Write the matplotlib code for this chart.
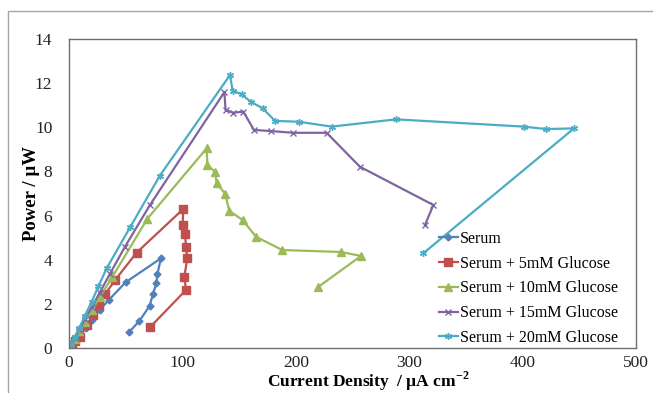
import matplotlib.pyplot as plt
from matplotlib.patches import Rectangle

plt.rcParams['font.family'] = ['Liberation Serif', 'DejaVu Serif']
plt.rcParams['mathtext.fontset'] = 'custom'
plt.rcParams['mathtext.rm'] = 'Liberation Serif'
plt.rcParams['mathtext.bf'] = 'Liberation Serif:bold'

# data (current density, power)
serum_x = [0, 3, 6, 10, 15, 20, 27, 35, 50, 81, 78, 77, 74, 71, 62, 53]
serum_y = [0, 0.15, 0.35, 0.6, 0.9, 1.25, 1.72, 2.17, 2.98, 4.06, 3.35, 2.93, 2.43, 1.9, 1.22, 0.72]

g5_x = [0, 2.4, 5, 9.7, 15.6, 21.5, 26.7, 31.7, 41, 59.6, 100.8, 100.2, 102.3, 103.2, 104.3, 101.7, 103.2, 71.4]
g5_y = [0, 0.14, 0.3, 0.51, 1.04, 1.5, 1.95, 2.43, 3.1, 4.32, 6.3, 5.57, 5.15, 4.59, 4.06, 3.23, 2.63, 0.94]

g10_x = [0, 2, 5, 9, 14, 20, 27, 38, 69, 121.4, 122, 128.7, 130.2, 137.6, 141.4, 153.1, 164.9, 188, 240, 257.5, 219.6]
g10_y = [0, 0.15, 0.4, 0.75, 1.2, 1.7, 2.3, 3.2, 5.85, 9.05, 8.29, 7.99, 7.46, 7.0, 6.21, 5.8, 5.04, 4.44, 4.35, 4.17, 2.76]

g15_x = [0, 2, 5, 9, 14, 20, 27, 36, 49.4, 71.4, 137, 138.1, 144.9, 153.7, 163.1, 177.8, 197.8, 227.2, 256.6, 321.3, 313.9]
g15_y = [0, 0.17, 0.45, 0.8, 1.3, 1.85, 2.5, 3.35, 4.59, 6.48, 11.59, 10.78, 10.66, 10.71, 9.88, 9.83, 9.75, 9.75, 8.21, 6.48, 5.57]

g20_x = [0, 2, 5, 9, 14, 20, 26, 33.2, 54, 80, 142, 144.3, 152.3, 160.2, 170.7, 181.7, 202.8, 231.6, 288.4, 401.2, 420.6, 445.3, 312.4]
g20_y = [0, 0.2, 0.5, 0.9, 1.45, 2.1, 2.8, 3.61, 5.48, 7.8, 12.37, 11.66, 11.49, 11.16, 10.86, 10.29, 10.25, 10.03, 10.36, 10.03, 9.92, 9.95, 4.29]

labels = ['Serum', 'Serum + 5mM Glucose', 'Serum + 10mM Glucose',
          'Serum + 15mM Glucose', 'Serum + 20mM Glucose']
colors = ['#4F81BD', '#C0504D', '#9BBB59', '#8064A2', '#4BACC6']

fig = plt.figure(figsize=(6.53, 3.93), dpi=100)
ax = fig.add_axes([69 / 653, 1 - 348 / 393, 567 / 653, 309 / 393])

# outer chart border
fig.patches.append(Rectangle((8 / 653, -0.02), 1.05, 1 - 11 / 393 + 0.02,
                             transform=fig.transFigure, fill=False,
                             edgecolor='#a6a6a6', linewidth=1))

ax.plot(serum_x, serum_y, color=colors[0], lw=1.6, marker='D', ms=3.5, label=labels[0])
ax.plot(g5_x, g5_y, color=colors[1], lw=1.6, marker='s', ms=5.5, label=labels[1])
ax.plot(g10_x, g10_y, color=colors[2], lw=1.6, marker='^', ms=5.5, label=labels[2])
ax.plot(g15_x, g15_y, color=colors[3], lw=1.6, marker='x', ms=4.5, mew=1, label=labels[3])
ax.plot(g20_x, g20_y, color=colors[4], lw=1.6, marker=(6, 2, 0), ms=5, mew=1, label=labels[4])

ax.set_xlim(0, 500)
ax.set_ylim(0, 14)
ax.set_xticks([0, 100, 200, 300, 400, 500])
ax.set_yticks(range(0, 15, 2))
ax.tick_params(length=0, labelsize=12.5, colors='#222222')
ax.tick_params(axis='x', pad=5)
ax.tick_params(axis='y', pad=12)
for s in ax.spines.values():
    s.set_color('#6e6e6e')
    s.set_linewidth(1)

ax.set_xlabel('Current Density  / µA cm$^{\\mathbf{-2}}$', fontsize=12.5, fontweight='bold')
ax.xaxis.set_label_coords((368 - 69) / 567, -33 / 309)
ax.xaxis.label.set_va('center')
ax.set_ylabel('Power / µW', fontsize=13.5, fontweight='bold')
ax.yaxis.set_label_coords((32 - 69) / 567, 0.5)
ax.yaxis.label.set_va('center')

ax.legend(loc='lower right', bbox_to_anchor=(0.993, -0.04), frameon=False,
          fontsize=11.5, handlelength=1.2, handletextpad=0.1, labelspacing=0.55)

fig.savefig('out.png', dpi=100)
